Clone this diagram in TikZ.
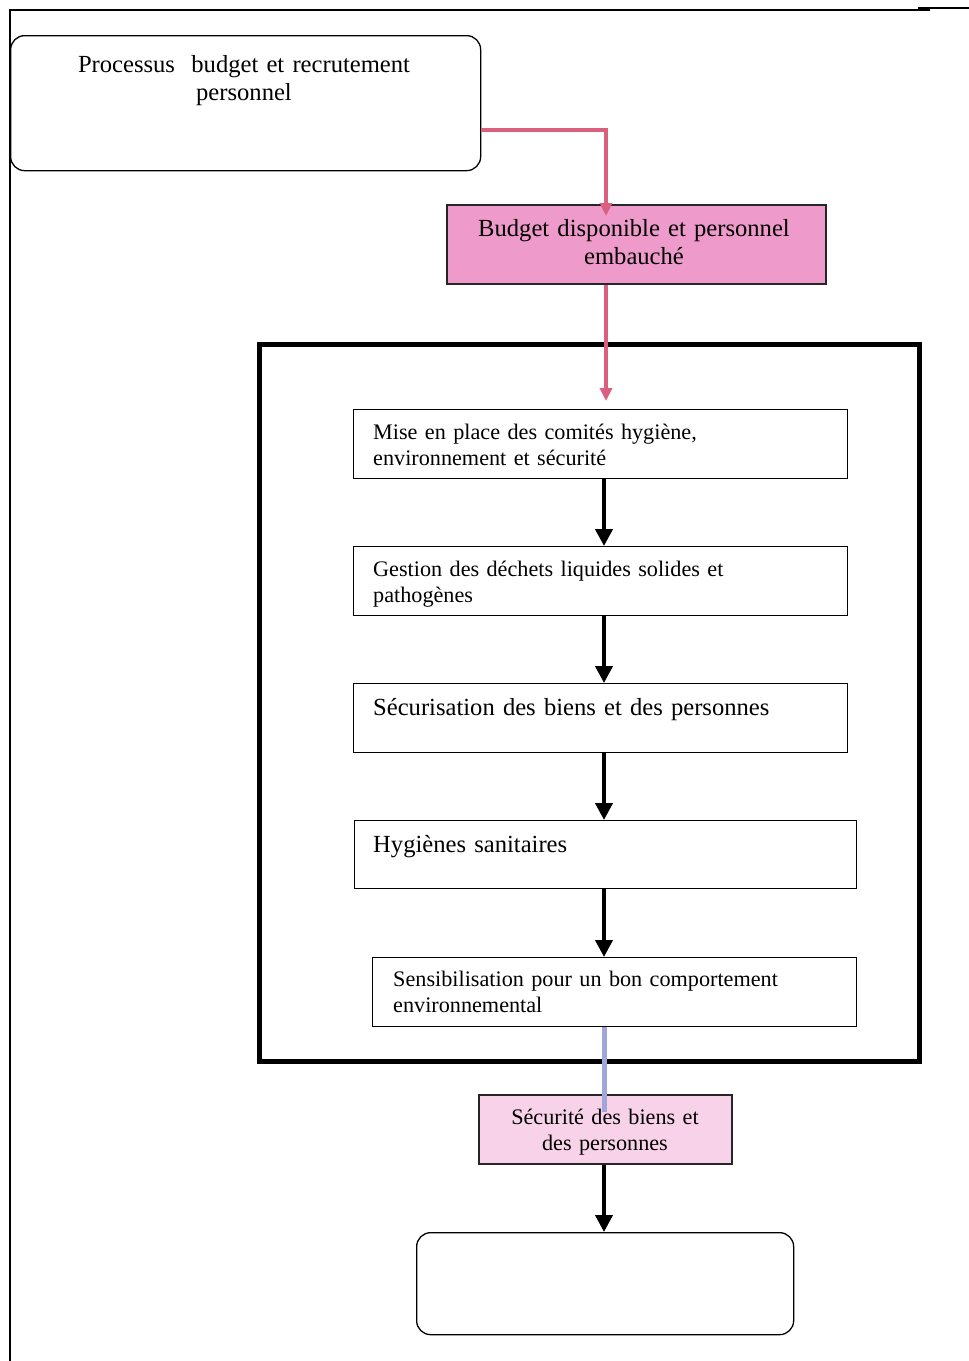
\documentclass[tikz,border=0pt]{standalone}
\usepackage{fontspec}
\setmainfont{Liberation Serif}
\usetikzlibrary{arrows.meta}
\definecolor{pinkA}{RGB}{238,154,203}
\definecolor{pinkB}{RGB}{248,210,232}
\definecolor{redline}{RGB}{217,96,127}
\definecolor{blueline}{RGB}{160,166,216}
\newcommand{\bigtxt}{\fontsize{24.6}{28.5}\selectfont}
\newcommand{\smalltxt}{\fontsize{22.2}{26.2}\selectfont}
\begin{document}
\begin{tikzpicture}[x=1pt,y=-1pt,
  stepbox/.style={draw=black, line width=1.3pt, fill=white, inner sep=0pt, anchor=north west},
  roundbox/.style={stepbox, rounded corners=14pt},
  pinkbox/.style={draw=black!85, line width=1.5pt, inner sep=0pt, anchor=north west},
  txtleft/.style={anchor=base west, inner sep=0pt, text width=470pt, align=left},
  txtmid/.style={anchor=base, inner sep=0pt, text width=420pt, align=center},
  blackarrow/.style={line width=4pt, -{Triangle[length=17pt,width=17pt]}},
  redarrow/.style={draw=redline, line width=3.2pt, -{Triangle[length=13pt,width=12pt]}},
  frameline/.style={line width=2pt}]
\useasboundingbox (0,0) rectangle (969,1361);

% page frame
\draw[frameline] (10,1361) -- (10,10) -- (930,10);
\draw[line width=2.8pt] (918,8) -- (969,8);

% large frame around the action steps
\draw[line width=5pt] (259,344) rectangle (919,1061);

% guide coordinates for the vertical connectors
\coordinate (ax) at (604,0);
\coordinate (rk) at (606,130);
\coordinate (rtip) at (606,216);
\coordinate (btip) at (604,1112);

% starting process
\node[roundbox, minimum width=470pt, minimum height=135pt] (start) at (10,35) {};
\node[txtmid, font=\bigtxt] (starttxt) at (244,72) {Processus\ \ budget et recrutement\\personnel};

% resources available
\node[pinkbox, fill=pinkA, minimum width=379pt, minimum height=79pt] (budget) at (446,204) {};
\node[txtmid, font=\bigtxt] (budgettxt) at (634,236) {Budget disponible et personnel\\embauché};

% action steps
\node[stepbox, minimum width=494pt, minimum height=69pt] (s1) at (353,409) {};
\node[txtleft, font=\smalltxt] (s1txt) at (373,439) {Mise en place des comités hygiène,\\environnement et sécurité};

\node[stepbox, minimum width=494pt, minimum height=69pt] (s2) at (353,546) {};
\node[txtleft, font=\smalltxt] (s2txt) at (373,576.5) {Gestion des déchets liquides solides et\\pathogènes};

\node[stepbox, minimum width=494pt, minimum height=69pt] (s3) at (353,683) {};
\node[txtleft, font=\bigtxt] (s3txt) at (373,715) {Sécurisation des biens et des personnes};

\node[stepbox, minimum width=502pt, minimum height=68pt] (s4) at (354,820) {};
\node[txtleft, font=\bigtxt] (s4txt) at (373,852) {Hygiènes sanitaires};

\node[stepbox, minimum width=484pt, minimum height=69pt] (s5) at (372,957) {};
\node[txtleft, font=\smalltxt] (s5txt) at (393,986.5) {Sensibilisation pour un bon comportement\\environnemental};

% outcome
\node[pinkbox, fill=pinkB, minimum width=253pt, minimum height=69pt] (safety) at (478,1094) {};
\node[txtmid, font=\smalltxt] (safetytxt) at (605,1124) {Sécurité des biens et\\des personnes};

% final (empty) box
\node[roundbox, minimum width=377pt, minimum height=102pt] (final) at (416,1232) {};

% connectors
\draw[redarrow] (start.east |- rk) -- (rk) -- (rtip);
\draw[redarrow, shorten >=8pt] (budget.south -| rk) -- (s1.north -| rk);
\draw[blackarrow] (s1.south -| ax) -- (s2.north -| ax);
\draw[blackarrow] (s2.south -| ax) -- (s3.north -| ax);
\draw[blackarrow] (s3.south -| ax) -- (s4.north -| ax);
\draw[blackarrow] (s4.south -| ax) -- (s5.north -| ax);
\draw[draw=blueline, line width=5pt] (s5.south -| ax) -- (btip);
\draw[blackarrow] (safety.south -| ax) -- (final.north -| ax);
\end{tikzpicture}
\end{document}
